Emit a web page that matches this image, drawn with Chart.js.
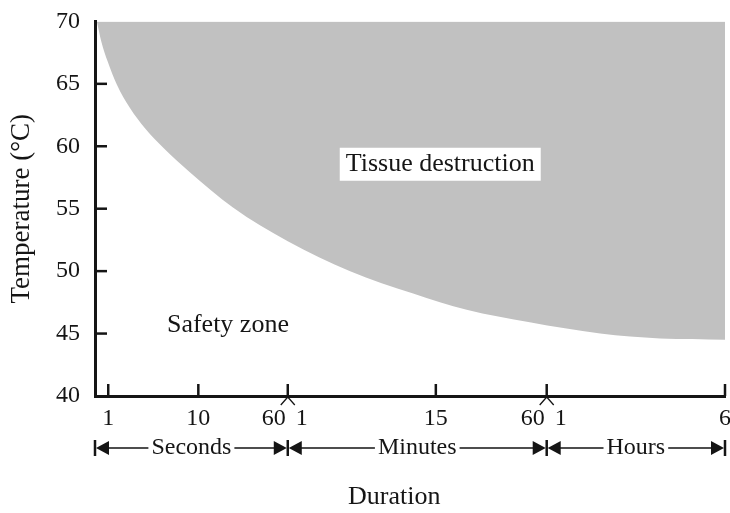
<!DOCTYPE html>
<html>
<head>
<meta charset="utf-8">
<script src="https://cdn.jsdelivr.net/npm/chart.js@4"></script>
<style>
html, body { margin: 0; padding: 0; background: #fff; }
</style>
</head>
<body>
<canvas id="graficoTemperatura" width="730" height="513"></canvas>
<script>
// limite de destruicao do tecido (posicao no eixo de duracao, °C)
var durationPos = [0.03, 0.10, 0.20, 0.35, 0.55, 0.80, 1.10, 1.51, 2.19, 3.06, 4.05, 5.05, 5.90, 6.90, 8.02, 8.97, 10.0];
var thresholdTemp = [70.0, 68.4, 66.8, 64.9, 63.1, 61.4, 59.8, 57.9, 55.1, 52.4, 50.0, 48.2, 46.9, 45.9, 45.0, 44.6, 44.5];

// marcas do eixo x (posicao + texto)
var tickPos = [0.21, 1.64, 3.06, 3.06, 5.41, 7.17, 7.17, 10];
var tickLabels = ['1', '10', '60', '1', '15', '60', '1', '6'];

// unidades de tempo
var unitNames = ['Seconds', 'Minutes', 'Hours'];
var unitBounds = [0, 3.06, 7.17, 10];

var serif = '"Liberation Serif", "Times New Roman", serif';
var ink = '#151515';

var desenhoEixos = {
    id: 'desenhoEixos',
    afterDraw: function (chart) {
        var c = chart.ctx;
        var xs = chart.scales.x;
        var ys = chart.scales.y;
        var area = chart.chartArea;

        c.save();
        c.strokeStyle = ink;
        c.fillStyle = ink;
        c.lineWidth = 2.5;

        // marcas do eixo y para dentro
        ys.ticks.forEach(function (t) {
            if (t.value === ys.min || t.value === ys.max) return;
            var py = ys.getPixelForValue(t.value);
            c.beginPath();
            c.moveTo(area.left, py);
            c.lineTo(area.left + 12, py);
            c.stroke();
        });

        // marcas do eixo x para cima
        tickPos.forEach(function (p, i) {
            if (i > 0 && tickPos[i - 1] === p) return;
            var px = xs.getPixelForValue(p);
            c.beginPath();
            c.moveTo(px, area.bottom);
            c.lineTo(px, area.bottom - 12);
            c.stroke();
        });

        // "^" nas trocas de unidade
        c.lineWidth = 1.3;
        unitBounds.slice(1, -1).forEach(function (b) {
            var px = xs.getPixelForValue(b);
            c.beginPath();
            c.moveTo(px - 7, area.bottom + 9);
            c.lineTo(px, area.bottom + 1);
            c.lineTo(px + 7, area.bottom + 9);
            c.stroke();
        });

        // textos das marcas
        c.font = '24px ' + serif;
        c.textBaseline = 'middle';
        tickPos.forEach(function (p, i) {
            var px = xs.getPixelForValue(p);
            if (tickPos[i + 1] === p) {
                c.textAlign = 'right';
                c.fillText(tickLabels[i], px - 2, area.bottom + 23);
            } else if (i > 0 && tickPos[i - 1] === p) {
                c.textAlign = 'left';
                c.fillText(tickLabels[i], px + 8, area.bottom + 23);
            } else {
                c.textAlign = 'center';
                c.fillText(tickLabels[i], px, area.bottom + 23);
            }
        });

        // linha com setas: Seconds / Minutes / Hours
        var ay = area.bottom + 52;
        c.lineWidth = 1.5;
        unitNames.forEach(function (nome, i) {
            var x0 = xs.getPixelForValue(unitBounds[i]);
            var x1 = xs.getPixelForValue(unitBounds[i + 1]);
            var mid = (x0 + x1) / 2;
            var w = c.measureText(nome).width;

            c.textAlign = 'center';
            c.fillText(nome, mid, ay);

            c.beginPath();
            c.moveTo(x0 + 12, ay);
            c.lineTo(mid - w / 2 - 3, ay);
            c.moveTo(mid + w / 2 + 3, ay);
            c.lineTo(x1 - 12, ay);
            c.stroke();

            // setas
            c.beginPath();
            c.moveTo(x0 + 1, ay);
            c.lineTo(x0 + 14, ay - 7);
            c.lineTo(x0 + 14, ay + 7);
            c.closePath();
            c.moveTo(x1 - 1, ay);
            c.lineTo(x1 - 14, ay - 7);
            c.lineTo(x1 - 14, ay + 7);
            c.closePath();
            c.fill();
        });
        c.lineWidth = 2.5;
        unitBounds.forEach(function (b) {
            var px = xs.getPixelForValue(b);
            c.beginPath();
            c.moveTo(px, ay - 8);
            c.lineTo(px, ay + 8);
            c.stroke();
        });

        // titulo do eixo x
        c.font = '26px ' + serif;
        c.textAlign = 'center';
        c.fillText('Duration', xs.getPixelForValue(4.75), area.bottom + 101);

        // rotulos das zonas
        var tx = xs.getPixelForValue(5.48);
        var ty = ys.getPixelForValue(58.6);
        var tw = c.measureText('Tissue destruction').width;
        c.fillStyle = '#fff';
        c.fillRect(tx - tw / 2 - 6, ty - 16, tw + 12, 33);
        c.fillStyle = ink;
        c.fillText('Tissue destruction', tx, ty);

        c.fillText('Safety zone', xs.getPixelForValue(2.11), ys.getPixelForValue(45.7));

        c.restore();
    }
};

var ctx = document.getElementById('graficoTemperatura').getContext('2d');

var graficoTemperatura = new Chart(ctx, {
    type: 'line',
    data: {
        datasets: [{
            label: 'Tissue destruction',
            data: durationPos.map(function (p, i) { return { x: p, y: thresholdTemp[i] }; }),
            borderWidth: 0,
            pointRadius: 0,
            backgroundColor: '#c1c1c1',
            fill: 'end',
            cubicInterpolationMode: 'monotone'
        }]
    },
    options: {
        responsive: false,
        animation: false,
        layout: {
            padding: { top: 19, right: 5, left: 0, bottom: 0 }
        },
        plugins: {
            legend: { display: false },
            tooltip: { enabled: false }
        },
        scales: {
            x: {
                type: 'linear',
                min: 0,
                max: 10,
                ticks: { display: false },
                grid: { display: false },
                border: { display: true, width: 3, color: ink },
                afterFit: function (scale) { scale.height = 117; }
            },
            y: {
                min: 40,
                max: 70,
                ticks: {
                    stepSize: 5,
                    padding: 7,
                    color: ink,
                    font: { family: serif, size: 24 }
                },
                grid: { display: false },
                border: { display: true, width: 3, color: ink },
                title: {
                    display: true,
                    text: 'Temperature (°C)',
                    color: ink,
                    font: { family: serif, size: 27 },
                    padding: { top: 6, bottom: 0 }
                },
                afterFit: function (scale) { scale.width = 95; }
            }
        }
    },
    plugins: [desenhoEixos]
});
</script>
</body>
</html>
